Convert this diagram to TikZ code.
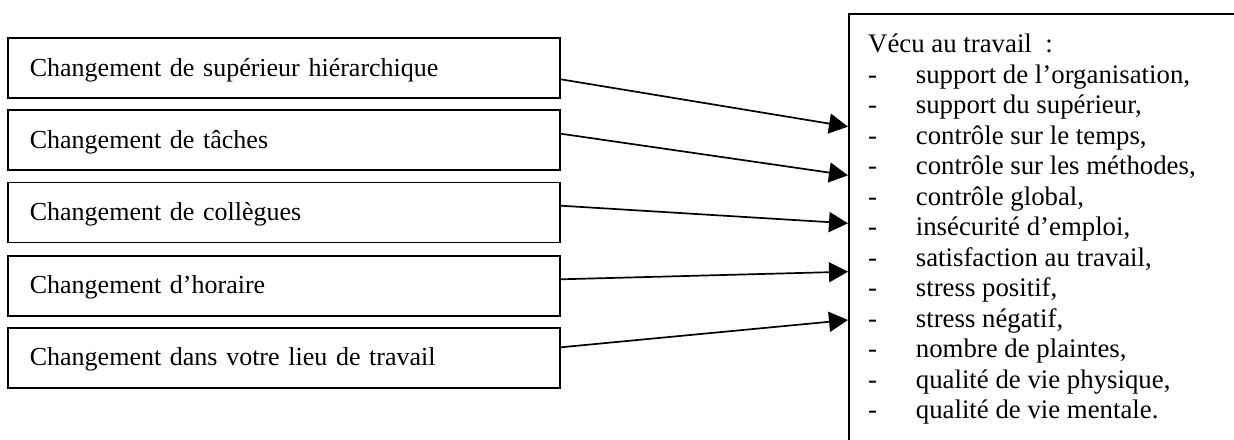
\documentclass[tikz,border=0pt]{standalone}
\usepackage{fontspec}
\setmainfont{Liberation Serif}
\usetikzlibrary{arrows.meta,calc}
\newcommand{\itemdash}{\makebox[47.7pt][l]{-}}
\begin{document}
\begin{tikzpicture}[x=1pt,y=-1pt,
  txt/.style={font=\fontsize{26}{30.5}\selectfont},
  rtxt/.style={font=\fontsize{26.8}{30.5}\selectfont},
  leftbox/.style={txt, draw, line width=1.7pt, anchor=north west,
    minimum height=60pt, text width=508pt, inner xsep=22pt, inner ysep=0pt,
    align=left, text height=19pt, text depth=3pt},
  bigbox/.style={draw, line width=1.7pt, anchor=north west,
    minimum width=430pt, minimum height=470pt, inner sep=0pt},
  conn/.style={line width=1.7pt, -{Triangle[length=19pt,width=20pt]}}]
\useasboundingbox (0,0) rectangle (1234,439);
\clip (0,0) rectangle (1234,439);
\fill[white] (0,0) rectangle (1234,439);

\node[leftbox] (b1) at (7,37.3) {Changement de supérieur hiérarchique};
\node[leftbox] (b2) at (7,109.3) {Changement de tâches};
\node[leftbox] (b3) at (7,181.7) {Changement de collègues};
\node[leftbox] (b4) at (7,254.8) {Changement d’horaire};
\node[leftbox] (b5) at (7,327.0) {Changement dans votre lieu de travail};

\node[bigbox] (r) at (848,13) {};
\node[rtxt, anchor=base west, inner sep=0pt] (rt) at (868,52.5) {\parbox[t]{340pt}{\raggedright
Vécu au travail~~:\\
\itemdash support de l’organisation,\\
\itemdash support du supérieur,\\
\itemdash contrôle sur le temps,\\
\itemdash contrôle sur les méthodes,\\
\itemdash contrôle global,\\
\itemdash insécurité d’emploi,\\
\itemdash satisfaction au travail,\\
\itemdash stress positif,\\
\itemdash stress négatif,\\
\itemdash nombre de plaintes,\\
\itemdash qualité de vie physique,\\
\itemdash qualité de vie mentale.}};

\coordinate (s1) at ($(b1.north east)+(0,42)$);
\coordinate (s2) at ($(b2.north east)+(0,24.4)$);
\coordinate (s3) at ($(b3.north east)+(0,24)$);
\coordinate (s4) at ($(b4.north east)+(0,24.5)$);
\coordinate (s5) at ($(b5.north east)+(0,20.3)$);
\coordinate (e1) at ($(r.north west)+(0,113.7)$);
\coordinate (e2) at ($(r.north west)+(0,162.3)$);
\coordinate (e3) at ($(r.north west)+(0,210.3)$);
\coordinate (e4) at ($(r.north west)+(0,258.7)$);
\coordinate (e5) at ($(r.north west)+(0,307)$);
\draw[conn] (s1) -- (e1);
\draw[conn] (s2) -- (e2);
\draw[conn] (s3) -- (e3);
\draw[conn] (s4) -- (e4);
\draw[conn] (s5) -- (e5);
\end{tikzpicture}
\end{document}
